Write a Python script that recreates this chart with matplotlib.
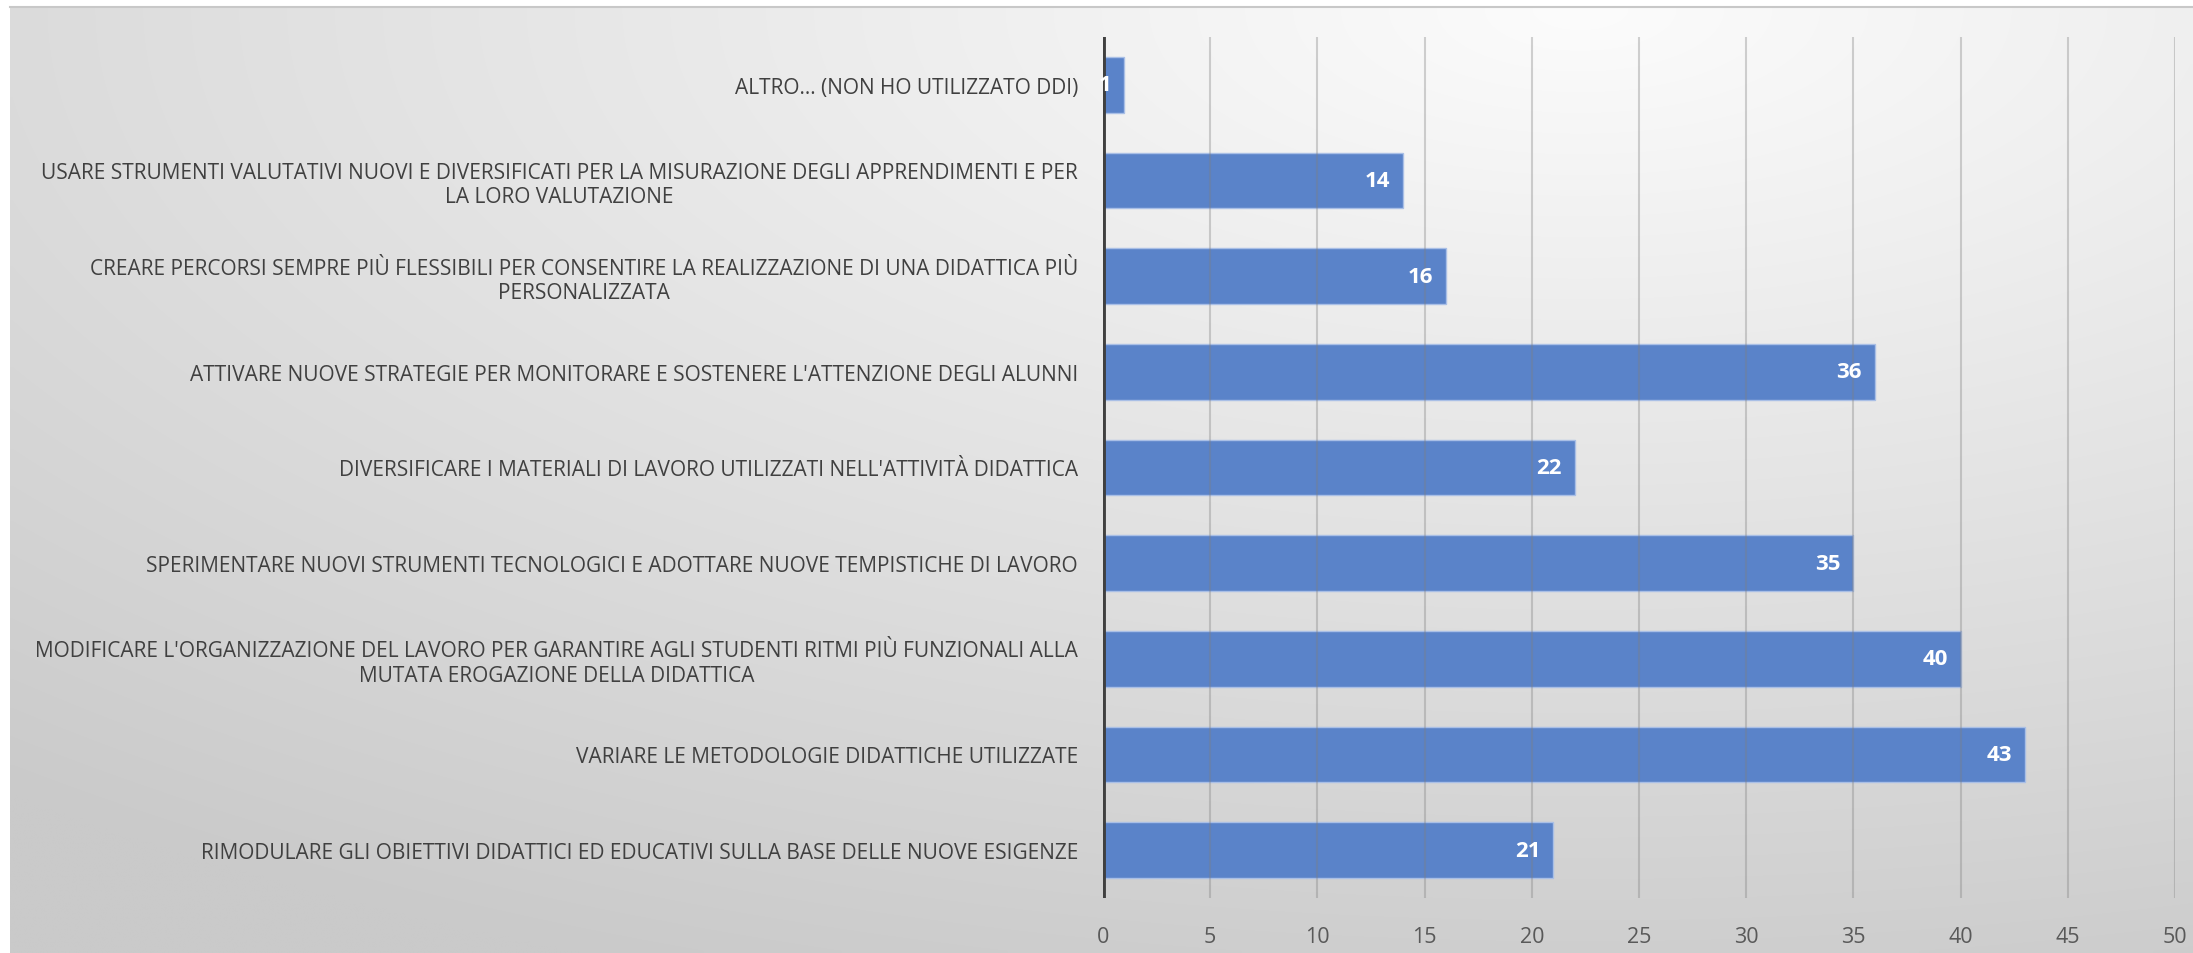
import numpy as np
import matplotlib
matplotlib.use("Agg")
import matplotlib.pyplot as plt

categories = [
    "ALTRO… (NON HO UTILIZZATO DDI)",
    "USARE STRUMENTI VALUTATIVI NUOVI E DIVERSIFICATI PER LA MISURAZIONE DEGLI APPRENDIMENTI E PER\nLA LORO VALUTAZIONE",
    "CREARE PERCORSI SEMPRE PIÙ FLESSIBILI PER CONSENTIRE LA REALIZZAZIONE DI UNA DIDATTICA PIÙ\nPERSONALIZZATA",
    "ATTIVARE NUOVE STRATEGIE PER MONITORARE E SOSTENERE L'ATTENZIONE DEGLI ALUNNI",
    "DIVERSIFICARE I MATERIALI DI LAVORO UTILIZZATI NELL'ATTIVITÀ DIDATTICA",
    "SPERIMENTARE NUOVI STRUMENTI TECNOLOGICI E ADOTTARE NUOVE TEMPISTICHE DI LAVORO",
    "MODIFICARE L'ORGANIZZAZIONE DEL LAVORO PER GARANTIRE AGLI STUDENTI RITMI PIÙ FUNZIONALI ALLA\nMUTATA EROGAZIONE DELLA DIDATTICA",
    "VARIARE LE METODOLOGIE DIDATTICHE UTILIZZATE",
    "RIMODULARE GLI OBIETTIVI DIDATTICI ED EDUCATIVI SULLA BASE DELLE NUOVE ESIGENZE",
]
values = [1, 14, 16, 36, 22, 35, 40, 43, 21]
xticks = [0, 5, 10, 15, 20, 25, 30, 35, 40, 45, 50]

plt.rcParams['font.family'] = ['Open Sans', 'DejaVu Sans']

W, H = 2193, 954
fig = plt.figure(figsize=(W / 100, H / 100), dpi=100)
fig.patch.set_facecolor('white')

# gradient background frame
bx0, by_top = 10, 8
bg = fig.add_axes([bx0 / W, 0, 1 - bx0 / W, (H - by_top) / H], zorder=-5)
gx = np.linspace(0, 1, 400)
gy = np.linspace(0, 1, 200)
GX, GY = np.meshgrid(gx, gy)
d = np.sqrt((GX - 0.72) ** 2 + GY ** 2)
val = (252 - 50 * np.clip(d, 0, 1.1) / 1.1) / 255.0
img = np.dstack([val, val, val])
bg.imshow(img, aspect='auto', extent=[0, 1, 1, 0], interpolation='bilinear')
bg.set_xlim(0, 1)
bg.set_ylim(1, 0)
bg.axis('off')
fig.add_artist(plt.Line2D([bx0 / W, 1], [(H - by_top) / H, (H - by_top) / H],
                          transform=fig.transFigure, color='#c8c8c8', lw=1.5))

left = 1103 / W
right = 2175 / W
bottom = (H - 899) / H
top = (H - 38) / H
ax = fig.add_axes([left, bottom, right - left, top - bottom])
ax.patch.set_alpha(0)

y = np.arange(len(categories))
ax.barh(y, values, height=0.58, color='#5a83c9', edgecolor='#a9bfe6',
        linewidth=1.0, zorder=2)
for xi in xticks[1:]:
    ax.axvline(xi, color='#7f7f7f', alpha=0.35, lw=1.5, zorder=3)
ax.axvline(0, color='#404040', lw=3.5, zorder=4)

for yi, v in zip(y, values):
    ax.text(v - 0.6, yi, str(v), ha='right', va='center', color='white',
            fontsize=16, fontweight='bold', zorder=5)

ax.set_xlim(0, 50)
ax.set_ylim(len(categories) - 0.5, -0.5)
ax.set_xticks(xticks)
ax.set_xticklabels([str(t) for t in xticks], fontsize=15.5, color='#595959')
ax.set_yticks(y)
ax.set_yticklabels(categories, fontsize=15, color='#404040', multialignment='center')
ax.tick_params(axis='both', length=0)
ax.tick_params(axis='y', pad=18)
ax.tick_params(axis='x', pad=20)
for s in ax.spines.values():
    s.set_visible(False)

fig.savefig('out.png', dpi=100)
